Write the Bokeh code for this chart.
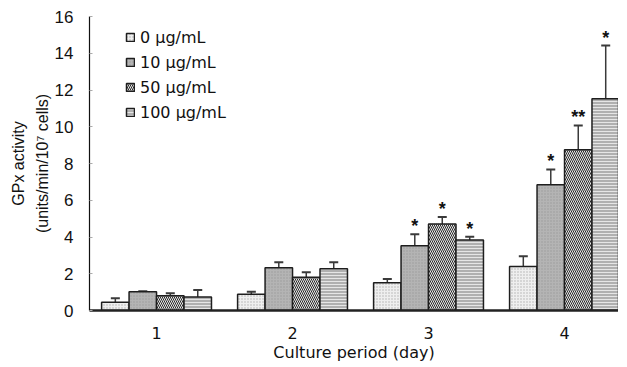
from bokeh.plotting import figure
from bokeh.models import (ColumnDataSource, Range1d, FixedTicker, Whisker, TeeHead,
                          Legend, LegendItem)
from bokeh.transform import dodge
from bokeh.core.properties import value
from bokeh.embed import file_html
from bokeh.resources import INLINE

# ---- data ----
days = [1, 2, 3, 4]
day_labels = ["1", "2", "3", "4"]
series = ["0 µg/mL", "10 µg/mL", "50 µg/mL", "100 µg/mL"]
mean_0 = [0.45, 0.89, 1.51, 2.39]
mean_10 = [1.02, 2.32, 3.52, 6.85]
mean_50 = [0.80, 1.81, 4.71, 8.75]
mean_100 = [0.74, 2.27, 3.84, 11.52]
err_0 = [0.22, 0.13, 0.21, 0.56]
err_10 = [0.03, 0.31, 0.63, 0.83]
err_50 = [0.14, 0.27, 0.38, 1.32]
err_100 = [0.38, 0.36, 0.18, 2.90]
sig_0 = ["", "", "", ""]
sig_10 = ["", "", "*", "*"]
sig_50 = ["", "", "*", "**"]
sig_100 = ["", "", "*", "*"]

means = [mean_0, mean_10, mean_50, mean_100]
errs = [err_0, err_10, err_50, err_100]
sigs = [sig_0, sig_10, sig_50, sig_100]

FONT = "DejaVu Sans"
YFONT = "Liberation Sans"
bw = 0.202
offsets = [-1.5 * bw, -0.5 * bw, 0.5 * bw, 1.5 * bw]
styles = [
    dict(fill_color="#efefef", hatch_pattern="dot", hatch_color="#b0b0b0", hatch_scale=3, hatch_weight=1),
    dict(fill_color="#b4b4b4", hatch_pattern="dot", hatch_color="#9a9a9a", hatch_scale=3, hatch_weight=1),
    dict(fill_color="#e8e8e8", hatch_pattern="left_diagonal_line", hatch_color="#2a2a2a", hatch_scale=4, hatch_weight=1),
    dict(fill_color="#b0b0b0", hatch_pattern="horizontal_line", hatch_color="#e6e6e6", hatch_scale=3, hatch_weight=1),
]

p = figure(frame_width=529, frame_height=294, x_range=Range1d(0.507, 4.397), y_range=Range1d(0, 16),
           output_backend="svg", toolbar_location=None,
           min_border_left=89, min_border_right=0, min_border_top=16, min_border_bottom=40)
p.outline_line_color = None
p.xgrid.visible = False
p.ygrid.visible = False

items = []
for j in range(4):
    tops = [m + e for m, e in zip(means[j], errs[j])]
    src = ColumnDataSource(dict(day=days, mean=means[j], top=tops, sig=sigs[j]))
    r = p.vbar(x=dodge("day", offsets[j]), top="mean", bottom=0, width=bw, source=src,
               line_color="#1e1e1e", line_width=1.5, **styles[j])
    w = Whisker(base=dodge("day", offsets[j]), lower="mean", upper="top", source=src,
                line_color="#3a3a3a", line_width=1.5,
                upper_head=TeeHead(size=9, line_color="#3a3a3a", line_width=2), lower_head=None,
                level="underlay")
    p.add_layout(w)
    p.text(x=dodge("day", offsets[j]), y="top", text="sig", source=src,
           text_align="center", text_baseline="middle", y_offset=-8,
           text_font=value(YFONT), text_font_size="18px", text_font_style="bold",
           text_color="#111111")
    items.append(LegendItem(label=series[j], renderers=[r]))

legend = Legend(items=items, location=(36, 188), padding=0, margin=0,
                border_line_color=None, background_fill_alpha=0,
                glyph_width=10, glyph_height=10, label_standoff=5,
                label_height=20, spacing=5,
                label_text_font=FONT, label_text_font_size="16px", label_text_color="#111111")
p.add_layout(legend, "center")

p.yaxis.ticker = FixedTicker(ticks=[0, 2, 4, 6, 8, 10, 12, 14, 16])
p.yaxis.major_tick_in = 3
p.yaxis.major_tick_out = 0
p.yaxis.major_tick_line_color = "#aaaaaa"
p.yaxis.minor_tick_line_color = None
p.yaxis.axis_line_color = "#111111"
p.yaxis.axis_line_width = 1.2
p.yaxis.major_label_standoff = 16
p.yaxis.major_label_text_font = YFONT
p.yaxis.major_label_text_font_size = "17px"
p.yaxis.major_label_text_color = "#111111"
p.yaxis.axis_label = "GPx activity\n(units/min/10⁷ cells)"
p.yaxis.axis_label_text_font = YFONT
p.yaxis.axis_label_text_font_size = "16px"
p.yaxis.axis_label_text_font_style = "normal"
p.yaxis.axis_label_text_color = "#111111"
p.yaxis.axis_label_text_align = "center"
p.yaxis.axis_label_text_line_height = 1.4
p.yaxis.axis_label_standoff = 1

p.xaxis.ticker = FixedTicker(ticks=days)
p.xaxis.major_label_overrides = {d: l for d, l in zip(days, day_labels)}
p.xaxis.major_tick_line_color = None
p.xaxis.minor_tick_line_color = None
p.xaxis.axis_line_color = "#222222"
p.xaxis.axis_line_width = 2.5
p.xaxis.major_label_standoff = 10
p.xaxis.major_label_text_font = FONT
p.xaxis.major_label_text_font_size = "16px"
p.xaxis.major_label_text_color = "#111111"
p.xaxis.axis_label = "Culture period (day)"
p.xaxis.axis_label_text_font = FONT
p.xaxis.axis_label_text_font_size = "16px"
p.xaxis.axis_label_text_font_style = "normal"
p.xaxis.axis_label_text_color = "#111111"
p.xaxis.axis_label_standoff = 1

open("out.html", "w").write(file_html(p, INLINE))
